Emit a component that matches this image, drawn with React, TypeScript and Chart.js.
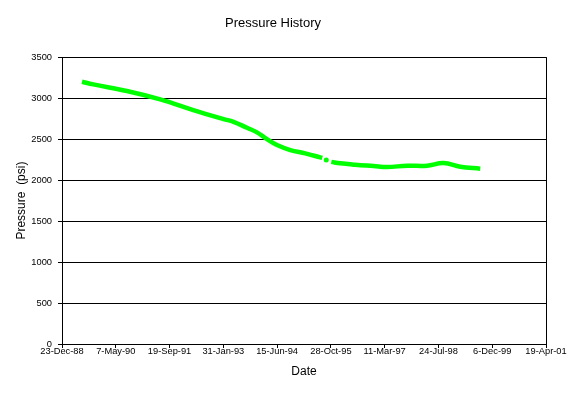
import React, { useEffect, useRef } from "react";
import { Chart, registerables } from "chart.js";

Chart.register(...registerables);

// Excel-style date serials (days) and pressure readings (psi); null marks a gap in the record
const dateSerials = [32686, 32791, 33104, 33414, 33721, 34002, 34095, 34220, 34313, 34406, 34499, 34623, 34762, 34901, 34920, 34938, 34957, 34980, 35004, 35087, 35227, 35397, 35522, 35708, 35893, 36048, 36203, 36389];
const pressures: (number | null)[] = [3199, 3167, 3087, 2984, 2854, 2744, 2711, 2638, 2582, 2500, 2427, 2366, 2325, 2277, 2270, null, 2244, null, 2222, 2204, 2187, 2171, 2159, 2175, 2175, 2207, 2163, 2138];

// axis tick values
const xTickStart = 32500; // 23-Dec-88
const xTickEnd = 37000; // 19-Apr-01
const xTickStep = 500;
const yTickMax = 3500;
const yTickStep = 500;

const MONTHS = ["Jan", "Feb", "Mar", "Apr", "May", "Jun", "Jul", "Aug", "Sep", "Oct", "Nov", "Dec"];

function formatSerial(s: number): string {
  const d = new Date(Date.UTC(1899, 11, 30) + s * 86400000);
  const yy = String(d.getUTCFullYear() % 100).padStart(2, "0");
  return `${d.getUTCDate()}-${MONTHS[d.getUTCMonth()]}-${yy}`;
}

const FONT = "'Liberation Sans', Arial, sans-serif";

const borderPlugin = {
  id: "plotBorder",
  beforeDatasetsDraw(chart: any) {
    const { ctx, chartArea } = chart;
    ctx.save();
    ctx.strokeStyle = "#000";
    ctx.lineWidth = 1;
    ctx.beginPath();
    const x = Math.round(chartArea.right) + 0.5;
    ctx.moveTo(x, chartArea.top);
    ctx.lineTo(x, chartArea.bottom);
    ctx.stroke();
    ctx.restore();
  },
};

export default function App() {
  const ref = useRef<HTMLCanvasElement | null>(null);

  useEffect(() => {
    document.body.style.margin = "0";
    if (!ref.current) return;
    const points = dateSerials.map((x, i) => ({ x, y: pressures[i] }));
    // a point standing alone between two gaps is drawn as a dot
    const radii = pressures.map((p, i) =>
      p !== null && pressures[i - 1] === null && pressures[i + 1] === null ? 2.5 : 0
    );
    const chart = new Chart(ref.current, {
      type: "line",
      data: {
        datasets: [
          {
            label: "Pressure",
            data: points,
            borderColor: "#00FF00",
            backgroundColor: "#00FF00",
            borderWidth: 4.5,
            pointRadius: radii,
            pointBorderWidth: 0,
            tension: 0.4,
            spanGaps: false,
            fill: false,
          },
        ],
      },
      options: {
        animation: false,
        responsive: false,
        maintainAspectRatio: false,
        layout: { padding: { left: 0, right: 30, top: 0, bottom: 0 } },
        plugins: {
          legend: { display: false },
          tooltip: { enabled: false },
          title: {
            display: true,
            text: "Pressure History",
            color: "#000",
            font: { family: FONT, size: 13, weight: "normal" },
            padding: { top: 16, bottom: 25.5 },
          },
        },
        scales: {
          x: {
            type: "linear",
            min: xTickStart,
            max: xTickEnd,
            afterBuildTicks(scale: any) {
              const t = [];
              for (let v = xTickStart; v <= xTickEnd; v += xTickStep) t.push({ value: v });
              scale.ticks = t;
            },
            afterFit(scale: any) {
              scale.height = 50;
            },
            ticks: {
              autoSkip: false,
              maxRotation: 0,
              minRotation: 0,
              padding: -2,
              color: "#000",
              font: { family: FONT, size: 9.3 },
              callback: (v: any) => formatSerial(Number(v)),
            },
            grid: {
              drawOnChartArea: false,
              drawTicks: true,
              tickLength: 4,
              color: "#000",
              lineWidth: 1,
            },
            border: { display: true, color: "#000", width: 1 },
            title: {
              display: true,
              text: "Date",
              color: "#000",
              font: { family: FONT, size: 12 },
              padding: { top: 0, bottom: 15 },
            },
          },
          y: {
            min: 0,
            max: yTickMax,
            afterFit(scale: any) {
              scale.width = 62;
            },
            ticks: {
              stepSize: yTickStep,
              padding: 6,
              color: "#000",
              font: { family: FONT, size: 9.3 },
              callback: (v: any) => String(v),
            },
            grid: {
              drawOnChartArea: true,
              drawTicks: true,
              tickLength: 4,
              color: "#000",
              lineWidth: 1,
            },
            border: { display: true, color: "#000", width: 1 },
            title: {
              display: true,
              text: "Pressure  (psi)",
              color: "#000",
              font: { family: FONT, size: 12 },
              padding: { top: 14.5, bottom: 0 },
            },
          },
        },
      },
      plugins: [borderPlugin],
    } as any);
    return () => chart.destroy();
  }, []);

  return (
    <div style={{ width: 576, height: 394, background: "#fff" }}>
      <canvas ref={ref} width={576} height={394} style={{ display: "block" }} />
    </div>
  );
}
